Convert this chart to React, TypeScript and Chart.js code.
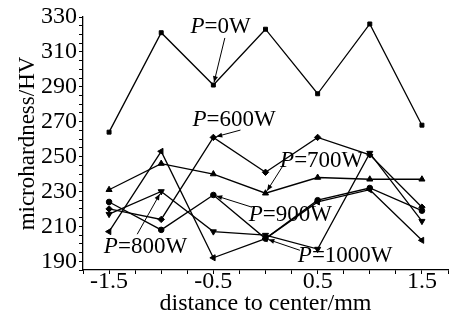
import React, { useEffect, useRef } from "react";
import { Chart, registerables } from "chart.js";

Chart.register(...registerables);

const distances = [-1.5, -1, -0.5, 0, 0.5, 1, 1.5];
const p0W = [264, 321, 291, 323, 286, 326, 268];
const p600W = [220, 214, 261, 241, 261, 251, 221];
const p700W = [231, 246, 240, 229, 238, 237, 237];
const p800W = [217, 230, 207, 205, 197, 252, 213];
const p900W = [224, 208, 228, 203, 225, 232, 219];
const p1000W = [207, 253, 192, 203, 224, 231, 202];

const xTickLabels = [-1.5, -0.5, 0.5, 1.5];
const yTickLabels = [190, 210, 230, 250, 270, 290, 310, 330];

// label text, label anchor (data units), arrow start (data units), arrow target (data units)
const labels = [
  { power: "0W", tx: -0.72, ty: 324.3, ax: -0.39, ay: 318, px: -0.5, py: 291 },
  { power: "600W", tx: -0.7, ty: 270.9, ax: -0.24, ay: 265.2, px: -0.5, py: 261 },
  { power: "700W", tx: 0.14, ty: 247.4, ax: 0.17, ay: 245, px: 0, py: 229 },
  { power: "900W", tx: -0.16, ty: 216.4, ax: -0.13, ay: 221, px: -0.5, py: 228 },
  { power: "800W", tx: -1.55, ty: 198, ax: -1.23, ay: 205.5, px: -1, py: 230 },
  { power: "1000W", tx: 0.31, ty: 192.9, ax: 0.33, ay: 196.3, px: 0, py: 203 },
];

const FONT = "'Liberation Serif', 'Times New Roman', serif";

const labelPlugin = {
  id: "powerLabels",
  afterDatasetsDraw(chart: any) {
    const { ctx, scales } = chart;
    const xs = scales.x;
    const ys = scales.y;
    ctx.save();
    ctx.fillStyle = "#000";
    ctx.strokeStyle = "#000";
    ctx.lineWidth = 1;
    ctx.textBaseline = "middle";
    for (const l of labels) {
      const tx = xs.getPixelForValue(l.tx);
      const ty = ys.getPixelForValue(l.ty);
      ctx.font = `italic 23px ${FONT}`;
      ctx.fillText("P", tx, ty);
      const w = ctx.measureText("P").width;
      ctx.font = `23px ${FONT}`;
      ctx.fillText("=" + l.power, tx + w, ty);
      // arrow
      const x1 = xs.getPixelForValue(l.ax);
      const y1 = ys.getPixelForValue(l.ay);
      let x2 = xs.getPixelForValue(l.px);
      let y2 = ys.getPixelForValue(l.py);
      const dx = x2 - x1;
      const dy = y2 - y1;
      const len = Math.sqrt(dx * dx + dy * dy);
      const ux = dx / len;
      const uy = dy / len;
      x2 -= ux * 3;
      y2 -= uy * 3;
      ctx.beginPath();
      ctx.moveTo(x1, y1);
      ctx.lineTo(x2, y2);
      ctx.stroke();
      const hl = 6;
      const hw = 2.5;
      ctx.beginPath();
      ctx.moveTo(x2, y2);
      ctx.lineTo(x2 - ux * hl - uy * hw, y2 - uy * hl + ux * hw);
      ctx.lineTo(x2 - ux * hl + uy * hw, y2 - uy * hl - ux * hw);
      ctx.closePath();
      ctx.fill();
    }
    ctx.restore();
  },
};

function series(values: number[], style: string, radius: number, rotation = 0) {
  return {
    data: distances.map((d, i) => ({ x: d, y: values[i] })),
    showLine: true,
    borderColor: "#000",
    backgroundColor: "#000",
    borderWidth: 1.3,
    pointStyle: style,
    pointRadius: radius,
    pointRotation: rotation,
    pointBackgroundColor: "#000",
    pointBorderColor: "#000",
    pointBorderWidth: 1,
    tension: 0,
  };
}

export default function App() {
  const ref = useRef<HTMLCanvasElement>(null);
  useEffect(() => {
    if (!ref.current) return;
    Chart.defaults.font.family = FONT;
    const chart = new Chart(ref.current, {
      type: "scatter",
      data: {
        datasets: [
          series(p0W, "rect", 2.8),
          series(p600W, "rectRot", 3.2),
          series(p700W, "triangle", 3.5),
          series(p800W, "triangle", 3.5, 180),
          series(p900W, "circle", 2.8),
          series(p1000W, "triangle", 3.5, -90),
        ] as any,
      },
      options: {
        animation: false,
        responsive: false,
        devicePixelRatio: 1,
        layout: { padding: { top: 17, right: 3, left: 0, bottom: 0 } },
        plugins: { legend: { display: false }, tooltip: { enabled: false } },
        scales: {
          x: {
            type: "linear",
            min: -1.75,
            max: 1.75,
            afterFit: (s: any) => {
              s.height = 52;
            },
            afterBuildTicks: (s: any) => {
              const t = [];
              for (let v = -1.75; v <= 1.7501; v += 0.25) t.push({ value: Math.round(v * 100) / 100 });
              s.ticks = t;
            },
            border: { display: true, color: "#000", width: 1.3 },
            grid: { display: true, drawOnChartArea: false, drawTicks: true, tickLength: 4, color: "#000", lineWidth: 1 },
            ticks: {
              autoSkip: false,
              maxRotation: 0,
              padding: -4,
              color: "#000",
              font: { size: 24, lineHeight: 1 },
              callback: (v: any) => (xTickLabels.includes(Number(v)) ? String(v) : ""),
            },
            title: {
              display: true,
              text: "distance to center/mm",
              color: "#000",
              font: { size: 24 },
              padding: { top: 0, bottom: 3.5 },
            },
          },
          y: {
            type: "linear",
            min: 185,
            max: 330,
            afterFit: (s: any) => {
              s.width = 83;
            },
            afterBuildTicks: (s: any) => {
              const t = [];
              for (let v = 185; v <= 330; v += 5) t.push({ value: v });
              s.ticks = t;
            },
            border: { display: true, color: "#000", width: 1.3 },
            grid: { display: true, drawOnChartArea: false, drawTicks: true, tickLength: 4, color: "#000", lineWidth: 1 },
            ticks: {
              autoSkip: false,
              padding: 2,
              color: "#000",
              font: { size: 24, lineHeight: 1 },
              callback: (v: any) => (yTickLabels.includes(Number(v)) ? String(v) : ""),
            },
            title: {
              display: true,
              text: "microhardness/HV",
              color: "#000",
              font: { size: 23 },
              padding: { top: 14, bottom: 0 },
            },
          },
        },
      },
      plugins: [labelPlugin],
    } as any);
    return () => chart.destroy();
  }, []);
  return (
    <div style={{ position: "fixed", left: 0, top: 0, width: 453, height: 322, background: "#fff" }}>
      <canvas ref={ref} width={453} height={322} />
    </div>
  );
}
